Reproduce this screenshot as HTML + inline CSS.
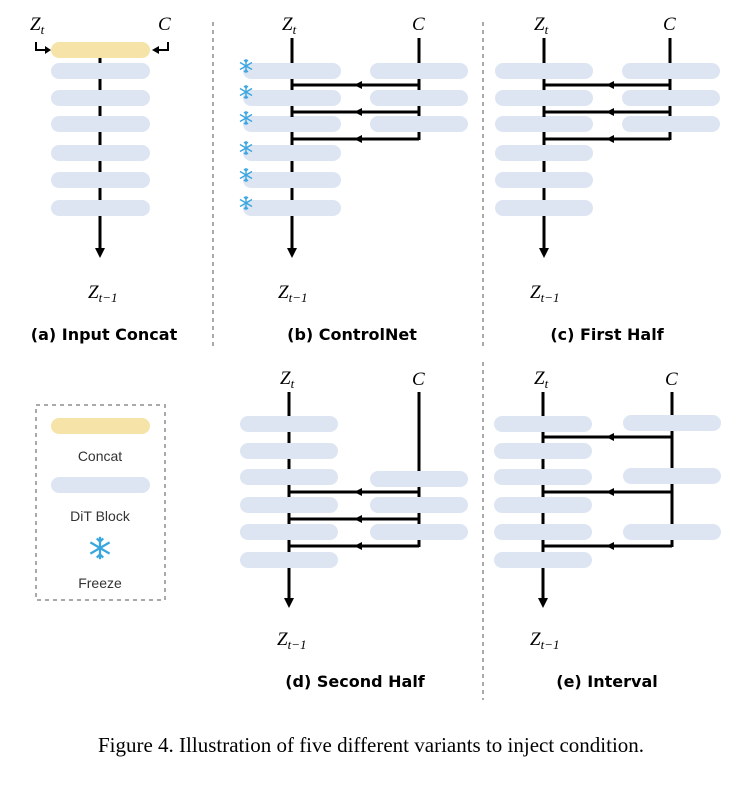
<!DOCTYPE html>
<html><head><style>
body{margin:0;background:#fff}
svg text{font-family:"Liberation Sans","DejaVu Sans",sans-serif}
svg text.m{font-family:"Liberation Serif",serif;font-style:italic;font-size:19px}
svg text.cap{font-family:"DejaVu Sans","Liberation Sans",sans-serif;font-weight:bold;font-size:16px}
svg text.fig{font-family:"Liberation Serif",serif;font-size:21px}
</style></head><body>
<svg width="743" height="780" viewBox="0 0 743 780" xmlns="http://www.w3.org/2000/svg">
<defs>
<g id="sf" stroke="#3aa6e0" stroke-width="1.4" fill="none">
<line x1="0" y1="-7" x2="0" y2="7"/><line x1="-6" y1="-3.5" x2="6" y2="3.5"/><line x1="-6" y1="3.5" x2="6" y2="-3.5"/>
<path d="M-2,-6 L0,-4 L2,-6 M-2,6 L0,4 L2,6"/>
</g>
</defs>
<g stroke="#aaa" stroke-width="2" stroke-dasharray="4,4">
<line x1="213" y1="22" x2="213" y2="350"/>
<line x1="483" y1="22" x2="483" y2="350"/>
<line x1="483" y1="362" x2="483" y2="700"/>
<rect x="36" y="405" width="129" height="195" fill="none"/>
</g>

<!-- (a) -->
<line x1="100" y1="50" x2="100" y2="250" stroke="#000" stroke-width="3"/>
<path d="M95,248 L105,248 L100,258z"/>
<g fill="#dde5f2">
<rect x="51" y="63" width="99" height="16" rx="8"/><rect x="51" y="90" width="99" height="16" rx="8"/>
<rect x="51" y="116" width="99" height="16" rx="8"/><rect x="51" y="145" width="99" height="16" rx="8"/>
<rect x="51" y="172" width="99" height="16" rx="8"/><rect x="51" y="200" width="99" height="16" rx="8"/>
</g>
<rect x="51" y="42" width="99" height="16" rx="8" fill="#f6e3a8"/>
<path d="M36,42 L36,50 L46,50" fill="none" stroke="#000" stroke-width="2"/><path d="M45,46 L51,50 L45,54z"/>
<path d="M168,42 L168,50 L158,50" fill="none" stroke="#000" stroke-width="2"/><path d="M159,46 L152,50 L159,54z"/>
<text x="30" y="30" class="m">Z<tspan font-size="13" dy="4">t</tspan></text>
<text x="158" y="30" class="m">C</text>
<text x="88" y="298" class="m">Z<tspan font-size="13" dy="4">t−1</tspan></text>
<text x="104" y="340" text-anchor="middle" class="cap">(a) Input Concat</text>

<!-- (b) -->
<g fill="#dde5f2">
<rect x="243" y="63" width="98" height="16" rx="8"/><rect x="243" y="90" width="98" height="16" rx="8"/>
<rect x="243" y="116" width="98" height="16" rx="8"/><rect x="243" y="145" width="98" height="16" rx="8"/>
<rect x="243" y="172" width="98" height="16" rx="8"/><rect x="243" y="200" width="98" height="16" rx="8"/>
<rect x="370" y="63" width="98" height="16" rx="8"/><rect x="370" y="90" width="98" height="16" rx="8"/><rect x="370" y="116" width="98" height="16" rx="8"/>
</g>
<g stroke="#000" stroke-width="3" fill="none">
<line x1="292" y1="38" x2="292" y2="63"/><line x1="292" y1="79" x2="292" y2="90"/><line x1="292" y1="106" x2="292" y2="116"/><line x1="292" y1="132" x2="292" y2="145"/><line x1="292" y1="161" x2="292" y2="172"/><line x1="292" y1="188" x2="292" y2="200"/><line x1="292" y1="216" x2="292" y2="250"/>
<line x1="419" y1="38" x2="419" y2="63"/><line x1="419" y1="79" x2="419" y2="90"/><line x1="419" y1="106" x2="419" y2="116"/><line x1="419" y1="132" x2="419" y2="140"/>
<path d="M419,85 H292 M419,112 H292 M419,139 H292"/>
<path d="M292,80 V90 M292,107 V117 M292,134 V144"/>
</g>
<path d="M287,248 L297,248 L292,258z"/>
<path d="M362,81 L354,85 L362,89z M362,108 L354,112 L362,116z M362,135 L354,139 L362,143z"/>
<use href="#sf" x="246" y="66"/><use href="#sf" x="246" y="92"/><use href="#sf" x="246" y="118"/><use href="#sf" x="246" y="148"/><use href="#sf" x="246" y="175"/><use href="#sf" x="246" y="203"/>
<text x="282" y="30" class="m">Z<tspan font-size="13" dy="4">t</tspan></text>
<text x="412" y="30" class="m">C</text>
<text x="278" y="298" class="m">Z<tspan font-size="13" dy="4">t−1</tspan></text>
<text x="352" y="340" text-anchor="middle" class="cap">(b) ControlNet</text>

<!-- (c) -->
<g fill="#dde5f2">
<rect x="495" y="63" width="98" height="16" rx="8"/><rect x="495" y="90" width="98" height="16" rx="8"/>
<rect x="495" y="116" width="98" height="16" rx="8"/><rect x="495" y="145" width="98" height="16" rx="8"/>
<rect x="495" y="172" width="98" height="16" rx="8"/><rect x="495" y="200" width="98" height="16" rx="8"/>
<rect x="622" y="63" width="98" height="16" rx="8"/><rect x="622" y="90" width="98" height="16" rx="8"/><rect x="622" y="116" width="98" height="16" rx="8"/>
</g>
<g stroke="#000" stroke-width="3" fill="none">
<line x1="544" y1="38" x2="544" y2="63"/><line x1="544" y1="79" x2="544" y2="90"/><line x1="544" y1="106" x2="544" y2="116"/><line x1="544" y1="132" x2="544" y2="145"/><line x1="544" y1="161" x2="544" y2="172"/><line x1="544" y1="188" x2="544" y2="200"/><line x1="544" y1="216" x2="544" y2="250"/>
<line x1="670" y1="38" x2="670" y2="63"/><line x1="670" y1="79" x2="670" y2="90"/><line x1="670" y1="106" x2="670" y2="116"/><line x1="670" y1="132" x2="670" y2="140"/>
<path d="M670,85 H544 M670,112 H544 M670,139 H544"/>
<path d="M544,80 V90 M544,107 V117 M544,134 V144"/>
</g>
<path d="M539,248 L549,248 L544,258z"/>
<path d="M614,81 L606,85 L614,89z M614,108 L606,112 L614,116z M614,135 L606,139 L614,143z"/>
<text x="534" y="30" class="m">Z<tspan font-size="13" dy="4">t</tspan></text>
<text x="663" y="30" class="m">C</text>
<text x="530" y="298" class="m">Z<tspan font-size="13" dy="4">t−1</tspan></text>
<text x="607" y="340" text-anchor="middle" class="cap">(c) First Half</text>

<!-- legend -->
<rect x="51" y="418" width="99" height="16" rx="8" fill="#f6e3a8"/>
<text x="100" y="461" text-anchor="middle" font-size="14" fill="#333">Concat</text>
<rect x="51" y="477" width="99" height="16" rx="8" fill="#dde5f2"/>
<text x="100" y="521" text-anchor="middle" font-size="14" fill="#333">DiT Block</text>
<g transform="translate(100,548) scale(1.6)"><use href="#sf"/></g>
<text x="100" y="588" text-anchor="middle" font-size="14" fill="#333">Freeze</text>

<!-- (d) -->
<g fill="#dde5f2">
<rect x="240" y="416" width="98" height="16" rx="8"/><rect x="240" y="443" width="98" height="16" rx="8"/>
<rect x="240" y="469" width="98" height="16" rx="8"/><rect x="240" y="497" width="98" height="16" rx="8"/>
<rect x="240" y="524" width="98" height="16" rx="8"/><rect x="240" y="552" width="98" height="16" rx="8"/>
<rect x="370" y="471" width="98" height="16" rx="8"/><rect x="370" y="497" width="98" height="16" rx="8"/><rect x="370" y="524" width="98" height="16" rx="8"/>
</g>
<g stroke="#000" stroke-width="3" fill="none">
<line x1="289" y1="392" x2="289" y2="416"/><line x1="289" y1="432" x2="289" y2="443"/><line x1="289" y1="459" x2="289" y2="469"/><line x1="289" y1="485" x2="289" y2="497"/><line x1="289" y1="513" x2="289" y2="524"/><line x1="289" y1="540" x2="289" y2="552"/><line x1="289" y1="568" x2="289" y2="600"/>
<line x1="419" y1="392" x2="419" y2="471"/><line x1="419" y1="487" x2="419" y2="497"/><line x1="419" y1="513" x2="419" y2="524"/><line x1="419" y1="540" x2="419" y2="547"/>
<path d="M419,492 H289 M419,519 H289 M419,546 H289"/>
<path d="M289,487 V497 M289,514 V524 M289,541 V551"/>
</g>
<path d="M284,598 L294,598 L289,608z"/>
<path d="M362,488 L354,492 L362,496z M362,515 L354,519 L362,523z M362,542 L354,546 L362,550z"/>
<text x="280" y="384" class="m">Z<tspan font-size="13" dy="4">t</tspan></text>
<text x="412" y="385" class="m">C</text>
<text x="277" y="645" class="m">Z<tspan font-size="13" dy="4">t−1</tspan></text>
<text x="355" y="687" text-anchor="middle" class="cap">(d) Second Half</text>

<!-- (e) -->
<g fill="#dde5f2">
<rect x="494" y="416" width="98" height="16" rx="8"/><rect x="494" y="443" width="98" height="16" rx="8"/>
<rect x="494" y="469" width="98" height="16" rx="8"/><rect x="494" y="497" width="98" height="16" rx="8"/>
<rect x="494" y="524" width="98" height="16" rx="8"/><rect x="494" y="552" width="98" height="16" rx="8"/>
<rect x="623" y="415" width="98" height="16" rx="8"/><rect x="623" y="468" width="98" height="16" rx="8"/><rect x="623" y="524" width="98" height="16" rx="8"/>
</g>
<g stroke="#000" stroke-width="3" fill="none">
<line x1="543" y1="392" x2="543" y2="416"/><line x1="543" y1="432" x2="543" y2="443"/><line x1="543" y1="459" x2="543" y2="469"/><line x1="543" y1="485" x2="543" y2="497"/><line x1="543" y1="513" x2="543" y2="524"/><line x1="543" y1="540" x2="543" y2="552"/><line x1="543" y1="568" x2="543" y2="600"/>
<line x1="672" y1="392" x2="672" y2="415"/><line x1="672" y1="431" x2="672" y2="468"/><line x1="672" y1="484" x2="672" y2="524"/><line x1="672" y1="540" x2="672" y2="547"/>
<path d="M672,437 H543 M672,492 H543 M672,546 H543"/>
<path d="M543,432 V442 M543,487 V497 M543,541 V551"/>
</g>
<path d="M538,598 L548,598 L543,608z"/>
<path d="M614,433 L606,437 L614,441z M614,488 L606,492 L614,496z M614,542 L606,546 L614,550z"/>
<text x="534" y="384" class="m">Z<tspan font-size="13" dy="4">t</tspan></text>
<text x="665" y="385" class="m">C</text>
<text x="530" y="645" class="m">Z<tspan font-size="13" dy="4">t−1</tspan></text>
<text x="607" y="687" text-anchor="middle" class="cap">(e) Interval</text>

<text x="371" y="752" text-anchor="middle" class="fig" style="font-family:'Liberation Serif',serif;font-size:21px">Figure 4. Illustration of five different variants to inject condition.</text>
</svg>
</body></html>
